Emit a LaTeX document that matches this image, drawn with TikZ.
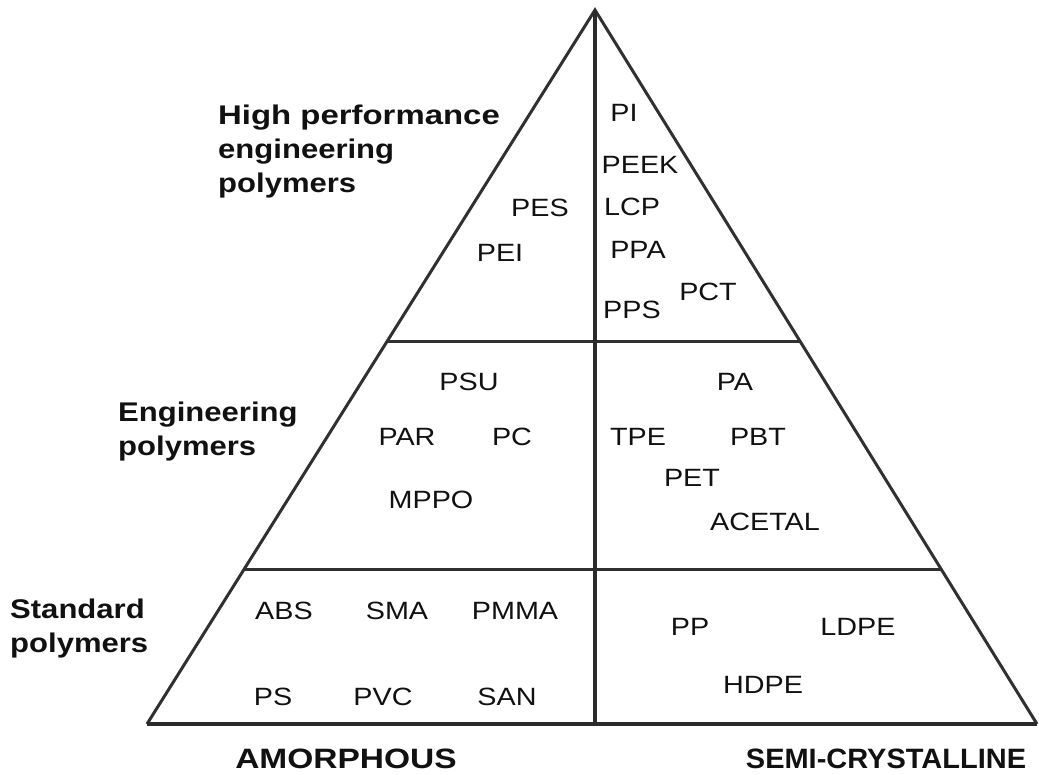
\documentclass[tikz,border=0pt]{standalone}
\usepackage{fontspec}
\usepackage{graphicx}
\setmainfont{Liberation Sans}
\newfontfamily\labfont{Liberation Sans}[FakeStretch=1.15]
\usetikzlibrary{calc}
\definecolor{edgecol}{HTML}{303030}
\definecolor{txtcol}{HTML}{111111}
\tikzset{
  edge/.style={draw=edgecol, line width=3pt},
  axis/.style={draw=edgecol!90!black, line width=4pt},
  side/.style={anchor=west, inner sep=0pt, align=left, text=txtcol,
    font=\labfont\bfseries\fontsize{27}{34}\selectfont},
  item/.style={inner sep=0pt, text=txtcol,
    font=\labfont\fontsize{25}{30}\selectfont},
  foot/.style={inner sep=0pt, text=txtcol,
    font=\labfont\bfseries\fontsize{28}{32}\selectfont}
}
\begin{document}
\begin{tikzpicture}[x=1pt,y=-1pt]
\useasboundingbox (0,0) rectangle (1039,774);
\fill[white] (0,0) rectangle (1039,774);
% triangle geometry
\coordinate (apex) at (595,10);
\coordinate (bl) at (147,724);
\coordinate (br) at (1037,724);
\coordinate (bm) at (595,724);
\coordinate (l1) at ($(apex)!0.4636!(bl)$);
\coordinate (r1) at ($(apex)!0.4636!(br)$);
\coordinate (l2) at ($(apex)!0.7843!(bl)$);
\coordinate (r2) at ($(apex)!0.7843!(br)$);
\draw[edge, line join=miter] (bl) -- (apex) -- (br);
\draw[edge] (l1) -- (r1);
\draw[edge] (l2) -- (r2);
\draw[axis] (bl) -- (br);
\draw[axis] (apex) -- (bm);
% side labels
\node[side] (hp) at (218,152) {\scalebox{1.06}[1]{High performance}\\engineering\\polymers};
\node[side] (ep) at (118,432) {Engineering\\polymers};
\node[side] (sp) at (10,629) {Standard\\polymers};
% top tier
\node[item] (pes) at (540,208) {PES};
\node[item] (pei) at (500,253) {PEI};
\node[item] (pi) at (624,113) {PI};
\node[item] (peek) at (640,165) {PEEK};
\node[item] (lcp) at (632,207) {LCP};
\node[item] (ppa) at (638,250) {PPA};
\node[item] (pps) at (632,310) {PPS};
\node[item] (pct) at (708,292) {PCT};
% middle tier
\node[item] (psu) at (469,382) {PSU};
\node[item] (par) at (407,437) {PAR};
\node[item] (pc) at (512,437) {PC};
\node[item] (mppo) at (431,500) {MPPO};
\node[item] (pa) at (735,382) {PA};
\node[item] (tpe) at (638,437) {TPE};
\node[item] (pbt) at (758,437) {PBT};
\node[item] (pet) at (692,478) {PET};
\node[item] (acetal) at (765,522) {ACETAL};
% bottom tier
\node[item] (abs) at (284,611) {ABS};
\node[item] (sma) at (397,611) {SMA};
\node[item] (pmma) at (515,611) {PMMA};
\node[item] (ps) at (273,697) {PS};
\node[item] (pvc) at (383,697) {PVC};
\node[item] (san) at (507,697) {SAN};
\node[item] (pp) at (690,627) {PP};
\node[item] (ldpe) at (858,627) {LDPE};
\node[item] (hdpe) at (763,685) {HDPE};
% footers
\node[foot] (amor) at (346,759) {\scalebox{1.04}[1]{AMORPHOUS}};
\node[foot] (semi) at (886,759) {\scalebox{0.9}[1]{SEMI-CRYSTALLINE}};
\end{tikzpicture}
\end{document}
